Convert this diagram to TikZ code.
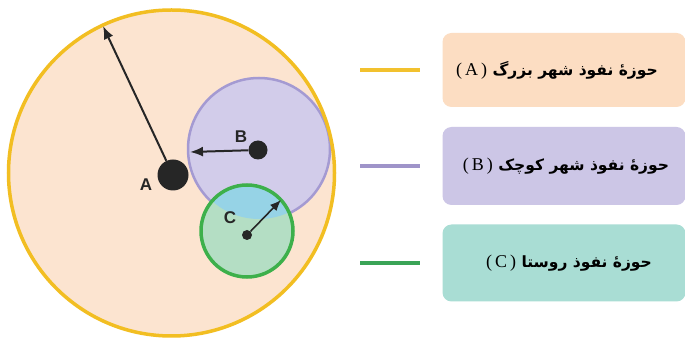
\documentclass[tikz,border=0pt]{standalone}
\usepackage{fontspec}
\setmainfont{Liberation Sans}
\newfontfamily\arabicfont[Script=Arabic]{DejaVu Sans}
\newfontfamily\serifl{Liberation Serif}
\TeXXeTstate=1
\usetikzlibrary{arrows.meta}
\definecolor{bigfill}{HTML}{FCE4D0}
\definecolor{bigline}{HTML}{F2BE22}
\definecolor{bfill}{HTML}{D2CCEA}
\definecolor{bline}{HTML}{A49AD2}
\definecolor{cfill}{HTML}{B4DEC4}
\definecolor{cline}{HTML}{3DB04B}
\definecolor{ovfill}{HTML}{96D3E6}
\definecolor{dotcol}{HTML}{262626}
\definecolor{boxa}{HTML}{FCDDC2}
\definecolor{boxb}{HTML}{CCC6E6}
\definecolor{boxc}{HTML}{A9DDD4}
\definecolor{lega}{HTML}{F2C12E}
\definecolor{legb}{HTML}{9F94C9}
\definecolor{legc}{HTML}{3AA457}
\newcommand{\latpar}[1]{\beginL{\serifl\mdseries\fontsize{18}{18}\selectfont(\,#1\,)}\endL}
\begin{document}
\begin{tikzpicture}[x=1pt,y=-1pt,
  arr/.style={draw=dotcol,line width=2pt,-{Latex[length=13pt,width=10pt]}},
  dotnode/.style={circle,fill=dotcol,inner sep=0pt},
  lett/.style={font=\bfseries\fontsize{17}{19}\selectfont,text=dotcol},
  legbox/.style={rounded corners=9pt,minimum width=243pt,inner sep=0pt},
  legline/.style={line width=4pt},
  legtext/.style={font=\arabicfont\bfseries\fontsize{15.5}{18}\selectfont}]
\useasboundingbox (0,0) rectangle (685,344);
\fill[white] (0,0) rectangle (685,344);
% big circle
\fill[bigfill] (171.5,173) circle[radius=163pt];
% B circle
\fill[bfill] (259,149) circle[radius=71pt];
\draw[bline,line width=2.5pt] (259,149) circle[radius=71pt];
% C circle
\fill[cfill] (247,231) circle[radius=46pt];
\begin{scope}
  \clip (259,149) circle[radius=70pt];
  \fill[ovfill] (247,231) circle[radius=46pt];
\end{scope}
\draw[cline,line width=3.5pt] (247,231) circle[radius=46pt];
\draw[bigline,line width=3.5pt] (171.5,173) circle[radius=163pt];
% dots
\node[dotnode,minimum size=31pt] (A) at (173,175) {};
\node[dotnode,minimum size=19pt] (B) at (258,150) {};
\node[dotnode,minimum size=10pt] (C) at (247,235) {};
\coordinate (Atip) at (103,26);
\coordinate (Btip) at (190,152);
\coordinate (Ctip) at (281,200);
\draw[arr] (A) -- (Atip);
\draw[arr] (B) -- (Btip);
\draw[arr,line width=1.6pt,-{Latex[length=11pt,width=9pt]}] (C) -- (Ctip);
\node[lett] (la) at (146,185) {A};
\node[lett] (lb) at (241,137) {B};
\node[lett] (lc) at (230,218) {C};
% legend
\node[legbox,fill=boxa,minimum height=74pt] (ba) at (564,70) {};
\node[legbox,fill=boxb,minimum height=78pt] (bb) at (564,166) {};
\node[legbox,fill=boxc,minimum height=77pt] (bc) at (564,263) {};
\coordinate (la1) at (360,70); \coordinate (la2) at (420,70);
\coordinate (lb1) at (360,166); \coordinate (lb2) at (420,166);
\coordinate (lc1) at (360,263); \coordinate (lc2) at (420,263);
\draw[legline,lega] (la1) -- (la2);
\draw[legline,legb] (lb1) -- (lb2);
\draw[legline,legc] (lc1) -- (lc2);
\node[legtext] (ta) at (557,70) {\beginR حوزهٔ نفوذ شهر بزرگ \latpar{A}\endR};
\node[legtext] (tb) at (566,166) {\beginR حوزهٔ نفوذ شهر کوچک \latpar{B}\endR};
\node[legtext] (tc) at (569,263) {\beginR حوزهٔ نفوذ روستا \latpar{C}\endR};
\end{tikzpicture}
\end{document}
